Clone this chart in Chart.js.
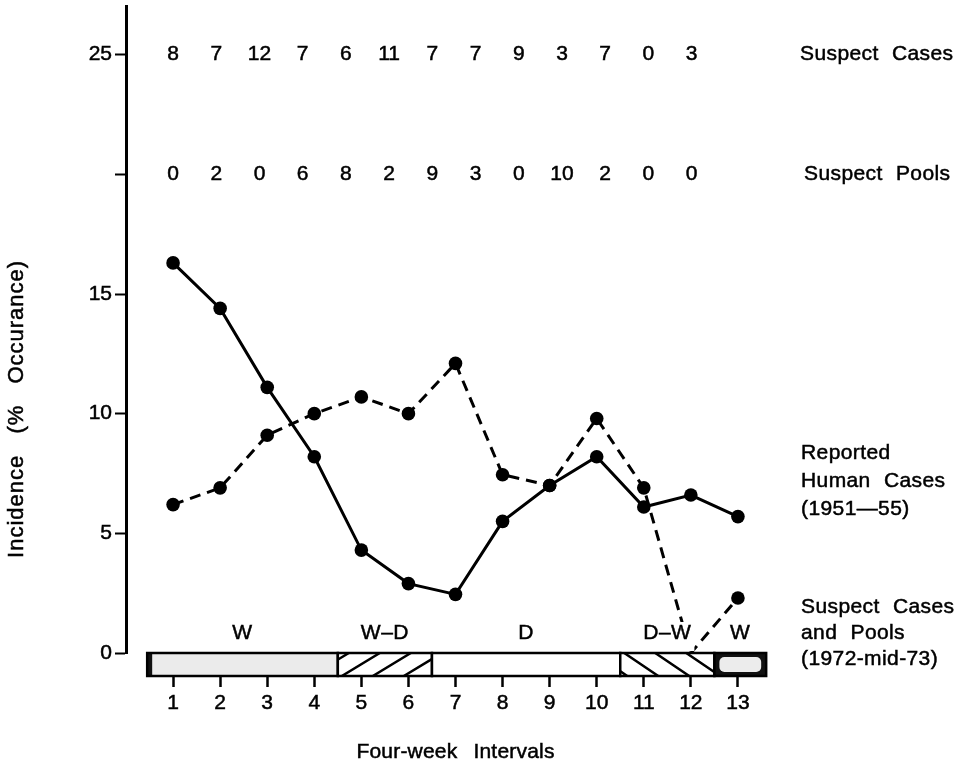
<!DOCTYPE html>
<html>
<head>
<meta charset="utf-8">
<style>
    html, body { margin: 0; padding: 0; background: #fff; }
</style>
<script src="https://cdn.jsdelivr.net/npm/chart.js@4/dist/chart.umd.min.js"></script>
</head>
<body>
<canvas id="chart" width="963" height="767"></canvas>
<script>
// four-week intervals on the x axis
const intervals = [1, 2, 3, 4, 5, 6, 7, 8, 9, 10, 11, 12, 13]

// incidence, % occurrence
const humanCases = [16.3, 14.4, 11.1, 8.2, 4.3, 2.9, 2.45, 5.5, 7.0, 8.2, 6.1, 6.6, 5.7]
const suspectCasesPools = [6.2, 6.9, 9.1, 10.0, 10.7, 10.0, 12.1, 7.45, 7.0, 9.8, 6.9, 0, 2.3]

// counts printed along the top
const suspectCases = [8, 7, 12, 7, 6, 11, 7, 7, 9, 3, 7, 0, 3]
const suspectPools = [0, 2, 0, 6, 8, 2, 9, 3, 0, 10, 2, 0, 0]

const yTicks = [0, 5, 10, 15, 20, 25]

// wet / dry seasons along the bottom bar
const seasonNames = ['W', 'W\u2013D', 'D', 'D\u2013W', 'W']
const seasonStarts = [0.45, 4.5, 6.5, 10.5, 12.5]
const seasonEnds = [4.5, 6.5, 10.5, 12.5, 13.6]

const FONT = "'Liberation Sans', Arial, sans-serif"
const STROKE = 0.5

function spacing(ctx, letter, word) {
    ctx.letterSpacing = letter + 'px'
    ctx.wordSpacing = word + 'px'
}

function text(ctx, str, x, y) {
    ctx.fillText(str, x, y)
    ctx.strokeText(str, x, y)
}

function hatch(ctx, x0, x1, top, bottom, up) {
    ctx.save()
    ctx.beginPath()
    ctx.rect(x0, top, x1 - x0, bottom - top)
    ctx.clip()
    ctx.lineWidth = 2.5
    ctx.beginPath()
    for (let k = -1; k < 4; k++) {
        const sx = x0 + 4 + k * 31
        if (up) {
            ctx.moveTo(sx, bottom)
            ctx.lineTo(sx + 38, top)
        } else {
            ctx.moveTo(sx, top)
            ctx.lineTo(sx + 34, bottom)
        }
    }
    ctx.stroke()
    ctx.restore()
}

const overlay = {
    id: 'overlay',
    beforeUpdate(chart) {
        spacing(chart.ctx, 0, 0)
    },
    beforeDraw(chart) {
        spacing(chart.ctx, 0, 0)
    },
    afterDraw(chart) {
        const { ctx, chartArea, scales: { x, y } } = chart
        ctx.save()
        ctx.fillStyle = '#000'
        ctx.strokeStyle = '#000'

        // season bar
        const top = y.getPixelForValue(0)
        const bottom = top + 23
        seasonNames.forEach((name, i) => {
            const x0 = x.getPixelForValue(seasonStarts[i])
            const x1 = x.getPixelForValue(seasonEnds[i])
            ctx.fillStyle = '#fff'
            ctx.fillRect(x0, top, x1 - x0, bottom - top)
            if (i === 0) {
                ctx.fillStyle = '#ebebeb'
                ctx.fillRect(x0, top, x1 - x0, bottom - top)
                ctx.fillStyle = '#111'
                ctx.fillRect(x0, top, 5, bottom - top)
            } else if (i === 1) {
                hatch(ctx, x0, x1, top, bottom, true)
            } else if (i === 3) {
                hatch(ctx, x0, x1, top, bottom, false)
            } else if (i === 4) {
                ctx.fillStyle = '#111'
                ctx.fillRect(x0, top, x1 - x0, bottom - top)
                ctx.fillStyle = '#ececec'
                ctx.beginPath()
                ctx.roundRect(x0 + 5, top + 4, x1 - x0 - 10, bottom - top - 8, 5)
                ctx.fill()
            }
            ctx.lineWidth = 2.5
            ctx.strokeRect(x0, top, x1 - x0, bottom - top)

            // season label above the bar
            const cx = x.getPixelForValue((seasonStarts[i] + seasonEnds[i]) / 2)
            ctx.font = '21px ' + FONT
            spacing(ctx, 0.5, 0)
            const w = ctx.measureText(name).width
            ctx.fillStyle = '#fff'
            ctx.fillRect(cx - w / 2 - 3, top - 31, w + 6, 29)
            ctx.fillStyle = '#000'
            ctx.lineWidth = STROKE
            ctx.textAlign = 'center'
            ctx.textBaseline = 'middle'
            text(ctx, name, cx, top - 20)
        })

        ctx.lineWidth = STROKE

        // counts along the top
        const rowStep = 0.918
        ctx.font = '21px ' + FONT
        spacing(ctx, 0, 0)
        ctx.textAlign = 'center'
        ctx.textBaseline = 'middle'
        suspectCases.forEach((v, i) => {
            text(ctx, String(v), x.getPixelForValue(1 + i * rowStep), y.getPixelForValue(25))
        })
        suspectPools.forEach((v, i) => {
            text(ctx, String(v), x.getPixelForValue(1 + i * rowStep), y.getPixelForValue(20))
        })

        // labels on the right
        const lx = chartArea.right + 15
        ctx.font = '21px ' + FONT
        spacing(ctx, 0.4, 7)
        ctx.textAlign = 'left'
        text(ctx, 'Suspect Cases', lx, y.getPixelForValue(25))
        text(ctx, 'Suspect Pools', lx + 4, y.getPixelForValue(20))
        const blocks = [
            { at: 8.33, lines: ['Reported', 'Human Cases', '(1951\u201455)'], gap: 28 },
            { at: 1.9, lines: ['Suspect Cases', 'and Pools', '(1972-mid-73)'], gap: 26 },
        ]
        blocks.forEach(b => {
            b.lines.forEach((t, j) => {
                text(ctx, t, lx + 1, y.getPixelForValue(b.at) + j * b.gap)
            })
        })

        // x axis title
        ctx.font = '21px ' + FONT
        spacing(ctx, 0.2, 10)
        ctx.textAlign = 'center'
        text(ctx, 'Four-week Intervals', (chartArea.left + chartArea.right) / 2, chart.height - 15)

        // y axis title
        ctx.save()
        ctx.translate(17, y.getPixelForValue(10.2))
        ctx.rotate(-Math.PI / 2)
        ctx.font = '22px ' + FONT
        spacing(ctx, 1, 14)
        ctx.textAlign = 'center'
        text(ctx, 'Incidence (% Occurance)', 0, 0)
        ctx.restore()

        ctx.restore()
        spacing(ctx, 0, 0)
    },
}

const points = values => values.map((v, i) => ({ x: intervals[i], y: v }))

new Chart(document.getElementById('chart'), {
    type: 'line',
    data: {
        datasets: [
            {
                label: 'Reported Human Cases (1951-55)',
                data: points(humanCases),
                borderColor: '#000',
                backgroundColor: '#000',
                borderWidth: 3,
                pointRadius: 6.8,
                pointBackgroundColor: '#000',
                pointBorderWidth: 0,
            },
            {
                label: 'Suspect Cases and Pools (1972-mid-73)',
                data: points(suspectCasesPools),
                borderColor: '#000',
                backgroundColor: '#000',
                borderWidth: 3,
                borderDash: [11, 7],
                pointRadius: suspectCasesPools.map((v, i) => (i === 11 ? 0 : 6.8)),
                pointBackgroundColor: '#000',
                pointBorderWidth: 0,
            },
        ],
    },
    options: {
        responsive: false,
        animation: false,
        layout: {
            padding: { top: 5, right: 178, bottom: 0, left: 0 },
        },
        plugins: {
            legend: { display: false },
            tooltip: { enabled: false },
        },
        scales: {
            x: {
                type: 'linear',
                min: 0,
                max: 14,
                afterBuildTicks: scale => {
                    scale.ticks = intervals.map(v => ({ value: v }))
                },
                afterFit: scale => {
                    scale.height = 114
                    scale.paddingLeft = 0
                    scale.paddingRight = 0
                },
                border: { display: false },
                grid: {
                    drawOnChartArea: false,
                    drawTicks: true,
                    tickLength: 34,
                    tickWidth: 2.5,
                    tickColor: '#000',
                },
                ticks: {
                    color: '#000',
                    padding: 4,
                    font: { family: FONT, size: 21 },
                    textStrokeColor: '#000',
                    textStrokeWidth: STROKE,
                },
            },
            y: {
                min: 0,
                max: 27,
                afterBuildTicks: scale => {
                    scale.ticks = yTicks.map(v => ({ value: v }))
                },
                afterFit: scale => {
                    scale.width = 126
                    scale.paddingTop = 0
                    scale.paddingBottom = 0
                },
                border: { display: true, color: '#000', width: 3 },
                grid: {
                    drawOnChartArea: false,
                    drawTicks: true,
                    tickLength: 11,
                    tickWidth: 2,
                    tickColor: '#000',
                },
                ticks: {
                    color: '#000',
                    padding: 3,
                    font: { family: FONT, size: 21 },
                    textStrokeColor: '#000',
                    textStrokeWidth: STROKE,
                    callback: v => (v === 20 ? '' : v),
                },
            },
        },
    },
    plugins: [overlay],
})
</script>
</body>
</html>
